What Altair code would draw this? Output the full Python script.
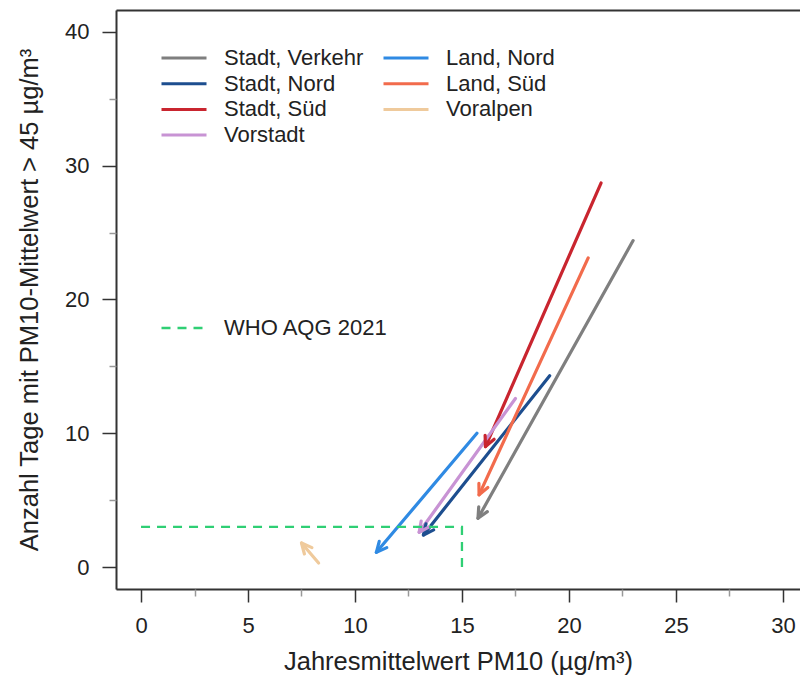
import math
import altair as alt
import pandas as pd

# ---- data ----
series = ["Stadt, Verkehr", "Stadt, Nord", "Stadt, Süd", "Vorstadt",
          "Land, Nord", "Land, Süd", "Voralpen"]
x_start = [23.0, 19.1, 21.5, 17.5, 15.7, 20.9, 8.3]
y_start = [24.4, 14.3, 28.7, 12.6, 10.0, 23.1, 0.3]
x_end = [15.75, 13.2, 16.1, 13.0, 11.0, 15.8, 7.5]
y_end = [3.65, 2.4, 9.0, 2.6, 1.1, 5.4, 1.8]
colors = ["#7f7f7f", "#1d4e8f", "#c9252f", "#c893d4",
          "#2f8ae3", "#f26b4c", "#efca9c"]

who_label = "WHO AQG 2021"
who_x = [0, 15, 15]
who_y = [3, 3, 0]
who_color = "#2fcf74"

x_major = [0, 5, 10, 15, 20, 25, 30]
x_minor = [2.5, 7.5, 12.5, 17.5, 22.5, 27.5]
y_major = [0, 10, 20, 30, 40]
y_minor = [5, 15, 25, 35]

# ---- layout ----
W, H = 684, 579
XDOM = [-1.17, 30.8]
YDOM = [-1.64, 41.63]
kx = W / (XDOM[1] - XDOM[0])
ky = H / (YDOM[1] - YDOM[0])
FONT = "Liberation Sans"

angles = []
for xs, ys, xe, ye in zip(x_start, y_start, x_end, y_end):
    a = math.degrees(math.atan2((xe - xs) * kx, (ye - ys) * ky)) % 360
    angles.append(a)

df = pd.DataFrame({"series": series, "x0": x_start, "y0": y_start,
                   "x1": x_end, "y1": y_end, "angle": angles})
who = pd.DataFrame({"label": [who_label] * 3, "x": who_x, "y": who_y,
                    "o": [0, 1, 2]})

color_scale = alt.Scale(domain=series, range=colors)

LINE_SYM = "M-5,0L5,0"
legend_main = alt.Legend(
    orient="none", legendX=57, legendY=37, columns=2, title=None,
    symbolType=LINE_SYM, symbolSize=81, symbolStrokeWidth=3,
    labelFontSize=22, labelFont=FONT, labelColor="#222", labelLimit=300,
    labelOffset=29, rowPadding=3.7, columnPadding=13, padding=0,
)

xscale = alt.Scale(domain=XDOM, nice=False, zero=False)
yscale = alt.Scale(domain=YDOM, nice=False, zero=False)

x_axis = alt.Axis(
    values=x_major, grid=False, title="Jahresmittelwert PM10 (µg/m³)",
    tickSize=13, tickColor="#333", tickWidth=1.5,
    domainColor="#333", domainWidth=2,
    labelFontSize=22, labelFont=FONT, labelColor="#222", labelPadding=13,
    titleFontSize=25.5, titleFont=FONT, titleColor="#222", titleFontWeight="normal",
    titlePadding=13, orient="bottom",
)
x_axis_minor = alt.Axis(
    values=x_minor, grid=False, title=None, labels=False, domain=False,
    tickSize=7, tickColor="#999", tickWidth=1.5, orient="bottom",
)
y_axis = alt.Axis(
    values=y_major, grid=False, title="Anzahl Tage mit PM10-Mittelwert > 45 µg/m³",
    tickSize=14, tickColor="#333", tickWidth=1.5,
    domainColor="#333", domainWidth=2,
    labelFontSize=22, labelFont=FONT, labelColor="#222", labelPadding=13,
    titleFontSize=25.5, titleFont=FONT, titleColor="#222", titleFontWeight="normal",
    titlePadding=22, orient="left",
)
y_axis_minor = alt.Axis(
    values=y_minor, grid=False, title=None, labels=False, domain=False,
    tickSize=7, tickColor="#999", tickWidth=1.5, orient="left",
)
top_axis = alt.Axis(orient="top", labels=False, ticks=False, title=None, grid=False,
                    domainColor="#333", domainWidth=2)

rules = alt.Chart(df).mark_rule(strokeWidth=3.2, strokeCap="round").encode(
    x=alt.X("x0:Q", scale=xscale, axis=x_axis),
    y=alt.Y("y0:Q", scale=yscale, axis=y_axis),
    x2="x1:Q", y2="y1:Q",
    color=alt.Color("series:N", scale=color_scale, legend=legend_main),
)

HEAD = "M-0.55,1.15L0,0L0.55,1.15"
heads = alt.Chart(df).mark_point(
    shape=HEAD, size=320, filled=False, strokeWidth=3.2, opacity=1,
    strokeCap="round", strokeJoin="round",
).encode(
    x=alt.X("x1:Q", scale=xscale, axis=x_axis_minor),
    y=alt.Y("y1:Q", scale=yscale, axis=y_axis_minor),
    angle=alt.Angle("angle:Q", scale=None),
    color=alt.Color("series:N", scale=color_scale, legend=None),
)

who_line = alt.Chart(who).mark_line(strokeWidth=2.3, strokeDash=[9, 7]).encode(
    x=alt.X("x:Q", scale=xscale, axis=top_axis),
    y=alt.Y("y:Q", scale=yscale, axis=None),
    order="o:Q",
    color=alt.Color("label:N", scale=alt.Scale(domain=[who_label], range=[who_color]),
                    legend=alt.Legend(
                        orient="none", legendX=57, legendY=307, title=None,
                        symbolType=LINE_SYM, symbolSize=81, symbolStrokeWidth=2.5,
                        symbolDash=[9, 7],
                        labelFontSize=22, labelFont=FONT, labelColor="#222",
                        labelLimit=300, labelOffset=29, padding=0)),
)

chart = alt.layer(rules, heads, who_line).resolve_scale(
    color="independent").resolve_axis(x="independent", y="independent").properties(
    width=W, height=H,
    autosize=alt.AutoSizeParams(type="none"),
    padding={"left": 116, "top": 10, "right": 0, "bottom": 86},
).configure_view(stroke=None).configure(font=FONT, background="white")

chart.save("out.html", embed_options={"renderer": "svg", "actions": False})
